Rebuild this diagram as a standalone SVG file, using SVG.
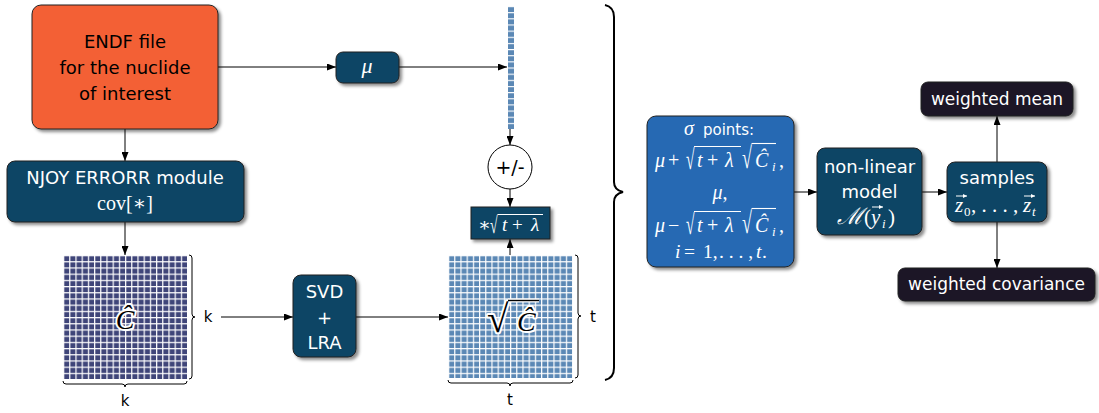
<svg xmlns="http://www.w3.org/2000/svg" width="1099" height="413" viewBox="0 0 1099 413">
<style>
.sans{font-family:"DejaVu Sans","Liberation Sans",sans-serif;}
.math{font-family:"Liberation Serif","DejaVu Serif",serif;}
.it{font-style:italic;}
.w{fill:#fff;}
.box{stroke:#222;stroke-width:1;filter:url(#sh);}
.teal{fill:#0f4565;}
.dark{fill:#1b1527;}
.conn{stroke:#000;stroke-width:1;fill:none;marker-end:url(#ah);}
.brace{stroke:#000;fill:none;stroke-width:1;}
.ol{stroke:#fff;stroke-width:1.1;}
.halo{stroke:#fff;stroke-width:4;paint-order:stroke;stroke-linejoin:round;}
</style>
<defs>
<filter id="sh" x="-20%" y="-20%" width="150%" height="150%">
<feDropShadow dx="2.5" dy="2.5" stdDeviation="1.8" flood-color="#000" flood-opacity="0.45"/>
</filter>
<marker id="ah" markerUnits="userSpaceOnUse" markerWidth="9" markerHeight="7" refX="9" refY="3.5" orient="auto">
<path d="M0,0 L9,3.5 L0,7 z" fill="#000"/>
</marker>
<marker id="va" markerUnits="userSpaceOnUse" markerWidth="4" markerHeight="4" refX="4" refY="2" orient="auto">
<path d="M0,0 L4,2 L0,4 z" fill="#fff"/>
</marker>
<pattern id="gC" patternUnits="userSpaceOnUse" x="63" y="255" width="6.2" height="6.2">
<rect width="6.2" height="6.2" fill="#3f4579"/>
<rect width="6.2" height="1.2" fill="#fff"/>
<rect width="1.2" height="6.2" fill="#fff"/>
</pattern>
<pattern id="gS" patternUnits="userSpaceOnUse" x="448" y="255" width="6.2" height="6.2">
<rect width="6.2" height="6.2" fill="#5b88b5"/>
<rect width="6.2" height="1.2" fill="#fff"/>
<rect width="1.2" height="6.2" fill="#fff"/>
</pattern>
<pattern id="gV" patternUnits="userSpaceOnUse" x="508" y="6" width="6" height="6.15">
<rect width="6" height="6.15" fill="#5b88b5"/>
<rect width="6" height="1.1" fill="#fff"/>
</pattern>
</defs>

<g id="connectors">
<path class="conn" d="M218,67 H336"/>
<path class="conn" d="M399,67 H507"/>
<path class="conn" d="M510,129 V145"/>
<path class="conn" d="M510,189 V207"/>
<path class="conn" d="M510,255 V239"/>
<path class="conn" d="M125,129 V161"/>
<path class="conn" d="M125,222 V255"/>
<path class="conn" d="M221,317 H293"/>
<path class="conn" d="M356,317 H448"/>
<path class="conn" d="M794,192 H817"/>
<path class="conn" d="M922,192 H947"/>
<path class="conn" d="M997,162 V116"/>
<path class="conn" d="M997,222 V268"/>
</g>

<g id="endf">
<rect class="box" x="32" y="5" width="186" height="124" rx="9" fill="#f36036"/>
<text class="sans" font-size="18" text-anchor="middle" x="125" y="48">ENDF file</text>
<text class="sans" font-size="18" text-anchor="middle" x="125" y="74">for the nuclide</text>
<text class="sans" font-size="18" text-anchor="middle" x="125" y="100">of interest</text>
</g>

<g id="mu">
<rect class="box teal" x="336" y="52" width="63" height="31" rx="7"/>
<text class="math it w" font-size="22" text-anchor="middle" x="367" y="73">μ</text>
</g>

<g id="vector">
<rect x="508" y="6" width="6" height="123" fill="url(#gV)"/>
</g>

<g id="pm">
<circle cx="510" cy="167" r="22" fill="#fff" stroke="#000" stroke-width="1"/>
<text class="sans" font-size="19" text-anchor="middle" x="510" y="174">+/-</text>
</g>

<g id="scale">
<rect class="box teal" x="471" y="207" width="79" height="32"/>
<text class="math w" font-size="19" x="478" y="231">∗</text>
<text class="math w" font-size="23" transform="translate(490,233) scale(0.6,1)">√</text>
<line class="ol" x1="497.5" y1="214.5" x2="543" y2="214.5"/>
<text class="math it w" font-size="19" x="502" y="231">t</text>
<text class="math w" font-size="19" x="512" y="231">+</text>
<text class="math it w" font-size="19" x="531" y="231">λ</text>
</g>

<g id="njoy">
<rect class="box teal" x="7" y="161" width="237" height="61" rx="8"/>
<text class="sans w" font-size="18" text-anchor="middle" x="125" y="184">NJOY ERRORR module</text>
<text class="math w" font-size="20" text-anchor="middle" x="125" y="210">cov[∗]</text>
</g>

<g id="matrixC">
<rect x="63" y="255" width="124" height="124" fill="url(#gC)"/>
<text class="math it halo" font-size="28" text-anchor="middle" x="125" y="329">Ĉ</text>
<path class="brace" d="M189,255 q3,0 3,3 V314 q0,3 3,3 q-3,0 -3,3 V376 q0,3 -3,3"/>
<text class="sans" font-size="15" text-anchor="middle" x="208" y="322">k</text>
<path class="brace" d="M63,381 q0,3 3,3 H122 q3,0 3,3 q0,-3 3,-3 H184 q3,0 3,-3"/>
<text class="sans" font-size="15" text-anchor="middle" x="125" y="406">k</text>
</g>

<g id="svd">
<rect class="box teal" x="293" y="275" width="63" height="82" rx="8"/>
<text class="sans w" font-size="18" text-anchor="middle" x="324.5" y="298">SVD</text>
<text class="sans w" font-size="18" text-anchor="middle" x="324.5" y="324">+</text>
<text class="sans w" font-size="18" text-anchor="middle" x="324.5" y="349">LRA</text>
</g>

<g id="matrixSqrt">
<rect x="448" y="255" width="125" height="123" fill="url(#gS)"/>
<line x1="508" y1="300.5" x2="539" y2="300.5" stroke="#fff" stroke-width="4"/>
<text class="math halo" font-size="39" x="487" y="332">√</text>
<line x1="508" y1="300.5" x2="539" y2="300.5" stroke="#000" stroke-width="1.4"/>
<text class="math it halo" font-size="28" x="517" y="331">Ĉ</text>
<path class="brace" d="M575,255 q3,0 3,3 V313 q0,3 3,3 q-3,0 -3,3 V375 q0,3 -3,3"/>
<text class="sans" font-size="15" text-anchor="middle" x="593" y="322">t</text>
<path class="brace" d="M448,380 q0,3 3,3 H507 q3,0 3,3 q0,-3 3,-3 H570 q3,0 3,-3"/>
<text class="sans" font-size="15" text-anchor="middle" x="510" y="405">t</text>
</g>

<g id="bigBrace">
<path d="M605,5 q9,2 9,12 V182 q0,8 9,10 q-9,2 -9,10 V368 q0,10 -9,12" fill="none" stroke="#000" stroke-width="2"/>
</g>

<g id="sigma">
<rect class="box" x="647" y="116" width="147" height="151" rx="9" fill="#2569b3"/>
<text class="math it w" font-size="20" x="684" y="135">σ</text>
<text class="sans w" font-size="15" x="703" y="135">points:</text>

<text class="math it w" font-size="20" x="655" y="167">μ</text>
<text class="math w" font-size="20" x="668" y="167">+</text>
<text class="math w" font-size="28" transform="translate(686,169) scale(0.55,1)">√</text>
<line class="ol" x1="694" y1="146.5" x2="741" y2="146.5"/>
<text class="math it w" font-size="20" x="697" y="167">t</text>
<text class="math w" font-size="20" x="707" y="167">+</text>
<text class="math it w" font-size="20" x="725" y="167">λ</text>
<text class="math w" font-size="30" transform="translate(742,168) scale(0.6,1)">√</text>
<line class="ol" x1="751.5" y1="143.5" x2="776" y2="143.5"/>
<text class="math it w" font-size="20" x="755" y="167">Ĉ</text>
<text class="math it w" font-size="13" x="772" y="171">i</text>
<text class="math w" font-size="20" x="779" y="167">,</text>

<text class="math w" font-size="20" text-anchor="middle" x="720" y="199"><tspan class="it">μ</tspan>,</text>

<text class="math it w" font-size="20" x="655" y="232">μ</text>
<text class="math w" font-size="20" x="668" y="232">−</text>
<text class="math w" font-size="28" transform="translate(686,234) scale(0.55,1)">√</text>
<line class="ol" x1="694" y1="211.5" x2="741" y2="211.5"/>
<text class="math it w" font-size="20" x="697" y="232">t</text>
<text class="math w" font-size="20" x="707" y="232">+</text>
<text class="math it w" font-size="20" x="725" y="232">λ</text>
<text class="math w" font-size="30" transform="translate(742,233) scale(0.6,1)">√</text>
<line class="ol" x1="751.5" y1="208.5" x2="776" y2="208.5"/>
<text class="math it w" font-size="20" x="755" y="232">Ĉ</text>
<text class="math it w" font-size="13" x="772" y="236">i</text>
<text class="math w" font-size="20" x="779" y="232">,</text>

<text class="math it w" font-size="19.5" x="675" y="258">i</text>
<text class="math w" font-size="19.5" x="684" y="258">=</text>
<text class="math w" font-size="19.5" x="703" y="258">1,</text>
<text class="math w" font-size="19.5" x="719" y="258">. . . ,</text>
<text class="math it w" font-size="19.5" x="756" y="258">t</text>
<text class="math w" font-size="19.5" x="762" y="258">.</text>
</g>

<g id="model">
<rect class="box teal" x="817" y="148" width="105" height="87" rx="8"/>
<text class="sans w" font-size="18" text-anchor="middle" x="869.5" y="173">non-linear</text>
<text class="sans w" font-size="18" text-anchor="middle" x="869.5" y="198">model</text>
<text class="w" font-size="23" x="837" y="224" style="font-family:'DejaVu Serif','Liberation Serif',serif;font-style:italic">ℳ</text>
<text class="math w" font-size="21" x="864" y="224">(</text>
<text class="math it w" font-size="21" x="871" y="224">y</text>
<text class="math it w" font-size="13" x="882" y="228">i</text>
<text class="math w" font-size="21" x="888" y="224">)</text>
<line x1="872" y1="207" x2="883" y2="207" stroke="#fff" stroke-width="1" marker-end="url(#va)"/>
</g>

<g id="samples">
<rect class="box teal" x="947" y="162" width="100" height="60" rx="8"/>
<text class="sans w" font-size="18" text-anchor="middle" x="997" y="184">samples</text>
<text class="math it w" font-size="21" x="955" y="212">z</text>
<text class="math w" font-size="13" x="964" y="216">0</text>
<text class="math w" font-size="21" x="971" y="212">, . . . ,</text>
<text class="math it w" font-size="21" x="1023" y="212">z</text>
<text class="math it w" font-size="13" x="1032" y="216">t</text>
<line x1="956" y1="196" x2="967" y2="196" stroke="#fff" stroke-width="1" marker-end="url(#va)"/>
<line x1="1024" y1="196" x2="1035" y2="196" stroke="#fff" stroke-width="1" marker-end="url(#va)"/>
</g>

<g id="wmean">
<rect class="box dark" x="921" y="82" width="152" height="34" rx="7"/>
<text class="sans w" font-size="17" text-anchor="middle" x="997" y="105">weighted mean</text>
</g>

<g id="wcov">
<rect class="box dark" x="898" y="268" width="197" height="33" rx="7"/>
<text class="sans w" font-size="17" text-anchor="middle" x="996.5" y="290">weighted covariance</text>
</g>
</svg>
